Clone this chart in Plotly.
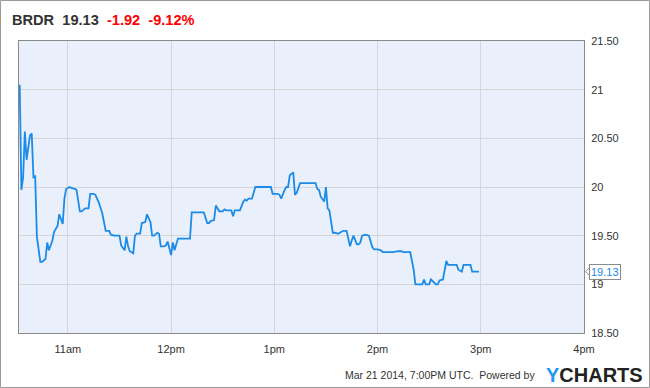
import plotly.graph_objects as go

DAY = "2014-03-21"

times = [
    "10:32", "10:33", "10:34", "10:35", "10:36", "10:38", "10:39", "10:40", "10:41", "10:42",
    "10:44", "10:45", "10:47", "10:48", "10:49", "10:51", "10:52", "10:54", "10:55", "10:57",
    "10:58", "10:59", "11:01", "11:02", "11:04", "11:05", "11:07", "11:08", "11:10", "11:12",
    "11:13", "11:15", "11:16", "11:18", "11:20", "11:21", "11:22", "11:24", "11:25", "11:27",
    "11:29", "11:30", "11:31", "11:33", "11:34", "11:35", "11:36", "11:38", "11:39", "11:40",
    "11:42", "11:43", "11:45", "11:46", "11:48", "11:49", "11:50", "11:52", "11:53", "11:54",
    "11:56", "11:57", "11:58", "12:00", "12:01", "12:02", "12:04", "12:08", "12:11", "12:12",
    "12:15", "12:19", "12:21", "12:22", "12:23", "12:25", "12:26", "12:28", "12:30", "12:31",
    "12:32", "12:34", "12:35", "12:36", "12:37", "12:40", "12:42", "12:43", "12:44", "12:45",
    "12:47", "12:49", "12:58", "12:59", "13:02", "13:03", "13:04", "13:06", "13:07", "13:08",
    "13:09", "13:11", "13:12", "13:13", "13:15", "13:24", "13:25", "13:26", "13:27", "13:29",
    "13:30", "13:31", "13:32", "13:34", "13:35", "13:37", "13:40", "13:42", "13:44", "13:45",
    "13:46", "13:48", "13:49", "13:50", "13:51", "13:53", "13:55", "13:57", "13:58", "14:00",
    "14:02", "14:03", "14:09", "14:12", "14:14", "14:15", "14:19", "14:21", "14:22", "14:26",
    "14:27", "14:28", "14:30", "14:31", "14:32", "14:34", "14:35", "14:36", "14:38", "14:39",
    "14:40", "14:41", "14:46", "14:47", "14:49", "14:50", "14:54", "14:55", "14:59",
]

prices = [
    21.05, 19.97, 20.10, 20.57, 20.28, 20.53, 20.55, 20.10, 20.11, 19.49,
    19.23, 19.23, 19.26, 19.43, 19.35, 19.45, 19.54, 19.60, 19.72, 19.62,
    19.88, 19.98, 20.00, 19.99, 19.98, 19.97, 19.75, 19.75, 19.78, 19.78,
    19.93, 19.93, 19.92, 19.84, 19.73, 19.63, 19.55, 19.55, 19.51, 19.50,
    19.50, 19.50, 19.40, 19.35, 19.49, 19.39, 19.34, 19.32, 19.50, 19.52,
    19.52, 19.63, 19.64, 19.72, 19.64, 19.50, 19.50, 19.53, 19.52, 19.39,
    19.39, 19.40, 19.44, 19.30, 19.43, 19.35, 19.47, 19.47, 19.47, 19.74,
    19.74, 19.74, 19.63, 19.63, 19.65, 19.66, 19.81, 19.75, 19.75, 19.77,
    19.76, 19.76, 19.76, 19.70, 19.76, 19.76, 19.85, 19.87, 19.86, 19.88,
    19.88, 20.00, 20.00, 19.93, 19.93, 19.92, 19.88, 19.97, 20.00, 20.00,
    20.12, 20.15, 19.92, 19.94, 20.04, 20.04, 19.98, 19.97, 19.90, 19.85,
    20.00, 19.78, 19.76, 19.53, 19.53, 19.52, 19.55, 19.55, 19.39, 19.45,
    19.50, 19.41, 19.41, 19.43, 19.50, 19.51, 19.50, 19.38, 19.36, 19.36,
    19.35, 19.33, 19.33, 19.34, 19.34, 19.33, 19.33, 19.15, 19.00, 19.00,
    19.05, 19.00, 19.00, 19.05, 19.03, 19.00, 19.00, 19.04, 19.05, 19.15,
    19.24, 19.20, 19.20, 19.15, 19.13, 19.20, 19.20, 19.13, 19.13,
]

x_tick_times = ["11:00", "12:00", "13:00", "14:00", "15:00", "16:00"]
x_tick_labels = ["11am", "12pm", "1pm", "2pm", "3pm", "4pm"]
y_tick_vals = [18.5, 19.0, 19.5, 20.0, 20.5, 21.0, 21.5]
y_tick_labels = ["18.50", "19", "19.50", "20", "20.50", "21", "21.50"]

ticker = "BRDR"
last_price = "19.13"
change = "-1.92"
change_pct = "-9.12%"
footer = "Mar 21 2014, 7:00PM UTC.  Powered by"

x_start = DAY + " 10:31:36"
x_end = DAY + " 16:00"
y_range = [18.5, 21.5]

W, H = 650, 388
L, R, T, B = 19, 66, 41, 55
PW, PH = W - L - R, H - T - B

FONT = "Arial, Liberation Sans, sans-serif"
LINE = "#1a8be8"

fig = go.Figure()
fig.add_trace(go.Scatter(
    x=[DAY + " " + t for t in times],
    y=prices,
    mode="lines",
    line=dict(color=LINE, width=1.8),
    hoverinfo="skip",
    showlegend=False,
))

fig.update_layout(
    width=W, height=H,
    margin=dict(l=L, r=R, t=T, b=B, pad=0),
    paper_bgcolor="white",
    plot_bgcolor="#eaf0fb",
    font=dict(family=FONT, size=11, color="#333333"),
    xaxis=dict(
        type="date",
        range=[x_start, x_end],
        tickvals=[DAY + " " + t for t in x_tick_times],
        ticktext=x_tick_labels,
        showgrid=True, gridcolor="#d6d6d6", gridwidth=1,
        showline=True, linecolor="#8a8a8a", linewidth=1, mirror=True,
        ticks="", ticklabelstandoff=6,
        zeroline=False,
        tickfont=dict(size=11, color="#333333"),
    ),
    yaxis=dict(
        side="right",
        range=y_range,
        tickvals=y_tick_vals,
        ticktext=y_tick_labels,
        showgrid=True, gridcolor="#d6d6d6", gridwidth=1,
        showline=True, linecolor="#8a8a8a", linewidth=1, mirror=True,
        ticks="", ticklabelstandoff=4,
        zeroline=False,
        tickfont=dict(size=11, color="#333333"),
    ),
)

# title line
fig.add_annotation(
    xref="paper", yref="paper",
    x=(10 - L) / PW, y=1 + (T - 20) / PH,
    xanchor="left", yanchor="middle",
    text=(f"<b>{ticker}&nbsp;&nbsp;{last_price}&nbsp;&nbsp;</b>"
          f"<b><span style='color:#ff0000'>{change}&nbsp;&nbsp;{change_pct}</span></b>"),
    showarrow=False,
    font=dict(family=FONT, size=14.6, color="#333333"),
)

# last value tag
fig.add_annotation(
    xref="paper", yref="y",
    x=1, y=float(last_price),
    xanchor="left", yanchor="middle",
    xshift=5,
    text=last_price,
    showarrow=False,
    bgcolor="white", bordercolor="#8a8a8a", borderwidth=1, borderpad=1,
    font=dict(family=FONT, size=11, color="#1a8be8"),
)
fig.add_shape(
    type="path", xref="paper", yref="y",
    xsizemode="pixel", ysizemode="pixel",
    xanchor=1, yanchor=float(last_price),
    path="M 5.5 -4 L 1.5 0 L 5.5 4",
    line=dict(color="#8a8a8a", width=1),
    fillcolor="white",
)

# footer
fig.add_annotation(
    xref="paper", yref="paper",
    x=(537 - L) / PW, y=-(375 - (T + PH)) / PH,
    xanchor="right", yanchor="middle",
    text=footer.replace("  ", "&nbsp;&nbsp;"),
    showarrow=False,
    font=dict(family=FONT, size=10.5, color="#333333"),
)
fig.add_annotation(
    xref="paper", yref="paper",
    x=(544 - L) / PW, y=-(375 - (T + PH)) / PH,
    xanchor="left", yanchor="middle",
    text="<b><span style='color:#2196f3'>Y</span>CHARTS</b>",
    showarrow=False,
    font=dict(family=FONT, size=20, color="#222222"),
)

# outer frame
fig.add_shape(
    type="rect", xref="paper", yref="paper",
    x0=(-L + 0.5) / PW, x1=1 + (R - 0.5) / PW,
    y0=(-B + 0.5) / PH, y1=1 + (T - 0.5) / PH,
    line=dict(color="#9a9a9a", width=1),
    fillcolor="rgba(0,0,0,0)",
    layer="above",
)

fig.write_html(
    "out.html",
    config={"displayModeBar": False},
    post_script="document.body.style.margin='0';document.body.style.overflow='hidden';",
)
